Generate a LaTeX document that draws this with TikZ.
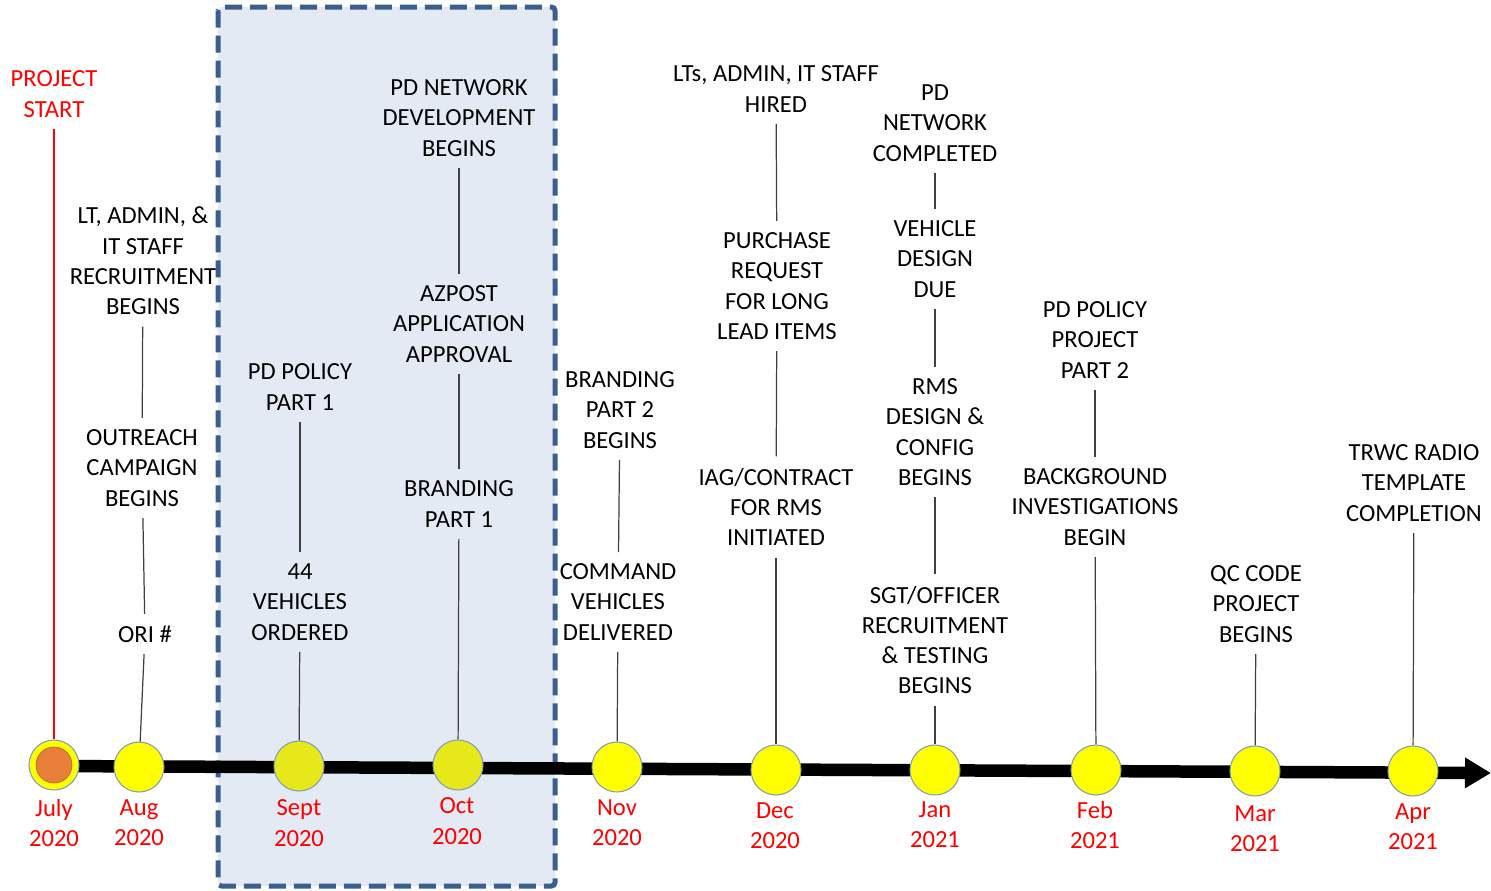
\documentclass[tikz,border=0pt]{standalone}
\usepackage{fontspec}
\setmainfont{Carlito}
\usetikzlibrary{arrows.meta}

\definecolor{boxfill}{HTML}{E4EAF4}
\definecolor{boxline}{HTML}{3A5F8F}
\definecolor{dotfill}{HTML}{FFFF00}
\definecolor{boxdot}{HTML}{E6E81A}
\definecolor{dotline}{HTML}{7F9CB8}
\definecolor{startdot}{HTML}{E8803A}
\definecolor{datered}{HTML}{FF0000}

\tikzset{
  event/.style={align=center, font=\fontsize{14}{17.2}\selectfont, inner sep=6.5pt},
  month/.style={event, text=datered},
  dot/.style={circle, draw=dotline, fill=dotfill, minimum size=1cm, inner sep=0pt, line width=0.6pt},
  link/.style={draw=black!75, line width=0.7pt},
}

\begin{document}
\begin{tikzpicture}[x=0.02cm, y=-0.02cm]
  \useasboundingbox (0,0) rectangle (1491,890);

  % Box
  \draw[boxline, fill=boxfill, line width=0.1cm, rounded corners=2pt,
        dash pattern=on 0.34cm off 0.16cm] (218,7) rectangle (555,886);

  % Axis
  \coordinate (axisstart) at (54,766);
  \coordinate (tip) at (1491,773);
  \draw[line width=0.25cm, -{Triangle[length=0.52cm, width=0.58cm]}] (axisstart) -- (tip);

  % Dots
  \node[dot] (jul) at (54,765) {};
  \node[circle, fill=startdot, draw=startdot!80!black, minimum size=0.72cm, inner sep=0pt] (julcore) at (jul) {};
  \node[dot] (aug) at (139,767) {};
  \node[dot, fill=boxdot] (sep) at (299,766) {};
  \node[dot, fill=boxdot] (oct) at (458,765) {};
  \node[dot] (nov) at (617,767) {};
  \node[dot] (dec) at (776,770) {};
  \node[dot] (jan) at (935,770) {};
  \node[dot] (feb) at (1096,770) {};
  \node[dot] (mar) at (1255,771) {};
  \node[dot] (apr) at (1413,771) {};

  % Months
  \node[month] (juldate) at (54,823) {July\\2020};
  \node[month] (augdate) at (139,823) {Aug\\2020};
  \node[month] (sepdate) at (299,823) {Sept\\2020};
  \node[month] (octdate) at (457,821) {Oct\\2020};
  \node[month] (novdate) at (617,823) {Nov\\2020};
  \node[month] (decdate) at (775,826) {Dec\\2020};
  \node[month] (jandate) at (935,825) {Jan\\2021};
  \node[month] (febdate) at (1095,825) {Feb\\2021};
  \node[month] (mardate) at (1255,829) {Mar\\2021};
  \node[month] (aprdate) at (1413,827) {Apr\\2021};

  % Events
  \node[month] (start) at (54,94) {PROJECT\\START};
  \node[event] (augA) at (143,261) {LT, ADMIN, \&\\IT STAFF\\RECRUITMENT\\BEGINS};
  \node[event] (augB) at (142,468) {OUTREACH\\CAMPAIGN\\BEGINS};
  \node[event] (augC) at (145,634) {ORI \#};
  \node[event] (sepA) at (300,387) {PD POLICY\\PART 1};
  \node[event] (sepB) at (300,602) {44\\VEHICLES\\ORDERED};
  \node[event] (octA) at (459,118) {PD NETWORK\\DEVELOPMENT\\BEGINS};
  \node[event] (octB) at (459,324) {AZPOST\\APPLICATION\\APPROVAL};
  \node[event] (octC) at (459,504) {BRANDING\\PART 1};
  \node[event] (novA) at (620,410) {BRANDING\\PART 2\\BEGINS};
  \node[event] (novB) at (618,602) {COMMAND\\VEHICLES\\DELIVERED};
  \node[event] (decA) at (776,89) {LTs, ADMIN, IT STAFF\\HIRED};
  \node[event] (decB) at (777,286) {PURCHASE\\REQUEST\\FOR LONG\\LEAD ITEMS};
  \node[event] (decC) at (776,507) {IAG/CONTRACT\\FOR RMS\\INITIATED};
  \node[event] (janA) at (935,123) {PD\\NETWORK\\COMPLETED};
  \node[event] (janB) at (935,259) {VEHICLE\\DESIGN\\DUE};
  \node[event] (janC) at (935,432) {RMS\\DESIGN \&\\CONFIG\\BEGINS};
  \node[event] (janD) at (935,640) {SGT/OFFICER\\RECRUITMENT\\\& TESTING\\BEGINS};
  \node[event] (febA) at (1095,340) {PD POLICY\\PROJECT\\PART 2};
  \node[event] (febB) at (1095,507) {BACKGROUND\\INVESTIGATIONS\\BEGIN};
  \node[event] (marA) at (1256,604) {QC CODE\\PROJECT\\BEGINS};
  \node[event] (aprA) at (1414,483) {TRWC RADIO\\TEMPLATE\\COMPLETION};

  % Links
  \draw[datered, line width=0.8pt] (start) -- (jul);
  \draw[link] (augA) -- (augB);
  \draw[link] (augB) -- (augC);
  \draw[link] (augC) -- (aug);
  \draw[link] (sepA) -- (sepB);
  \draw[link] (sepB) -- (sep);
  \draw[link] (octA) -- (octB);
  \draw[link] (octB) -- (octC);
  \draw[link] (octC) -- (oct);
  \draw[link] (novA) -- (novB);
  \draw[link] (novB) -- (nov);
  \draw[link] (decA) -- (decB);
  \draw[link] (decB) -- (decC);
  \draw[link] (decC) -- (dec);
  \draw[link] (janA) -- (janB);
  \draw[link] (janB) -- (janC);
  \draw[link] (janC) -- (janD);
  \draw[link] (janD) -- (jan);
  \draw[link] (febA) -- (febB);
  \draw[link] (febB) -- (feb);
  \draw[link] (marA) -- (mar);
  \draw[link] (aprA) -- (apr);
\end{tikzpicture}
\end{document}
